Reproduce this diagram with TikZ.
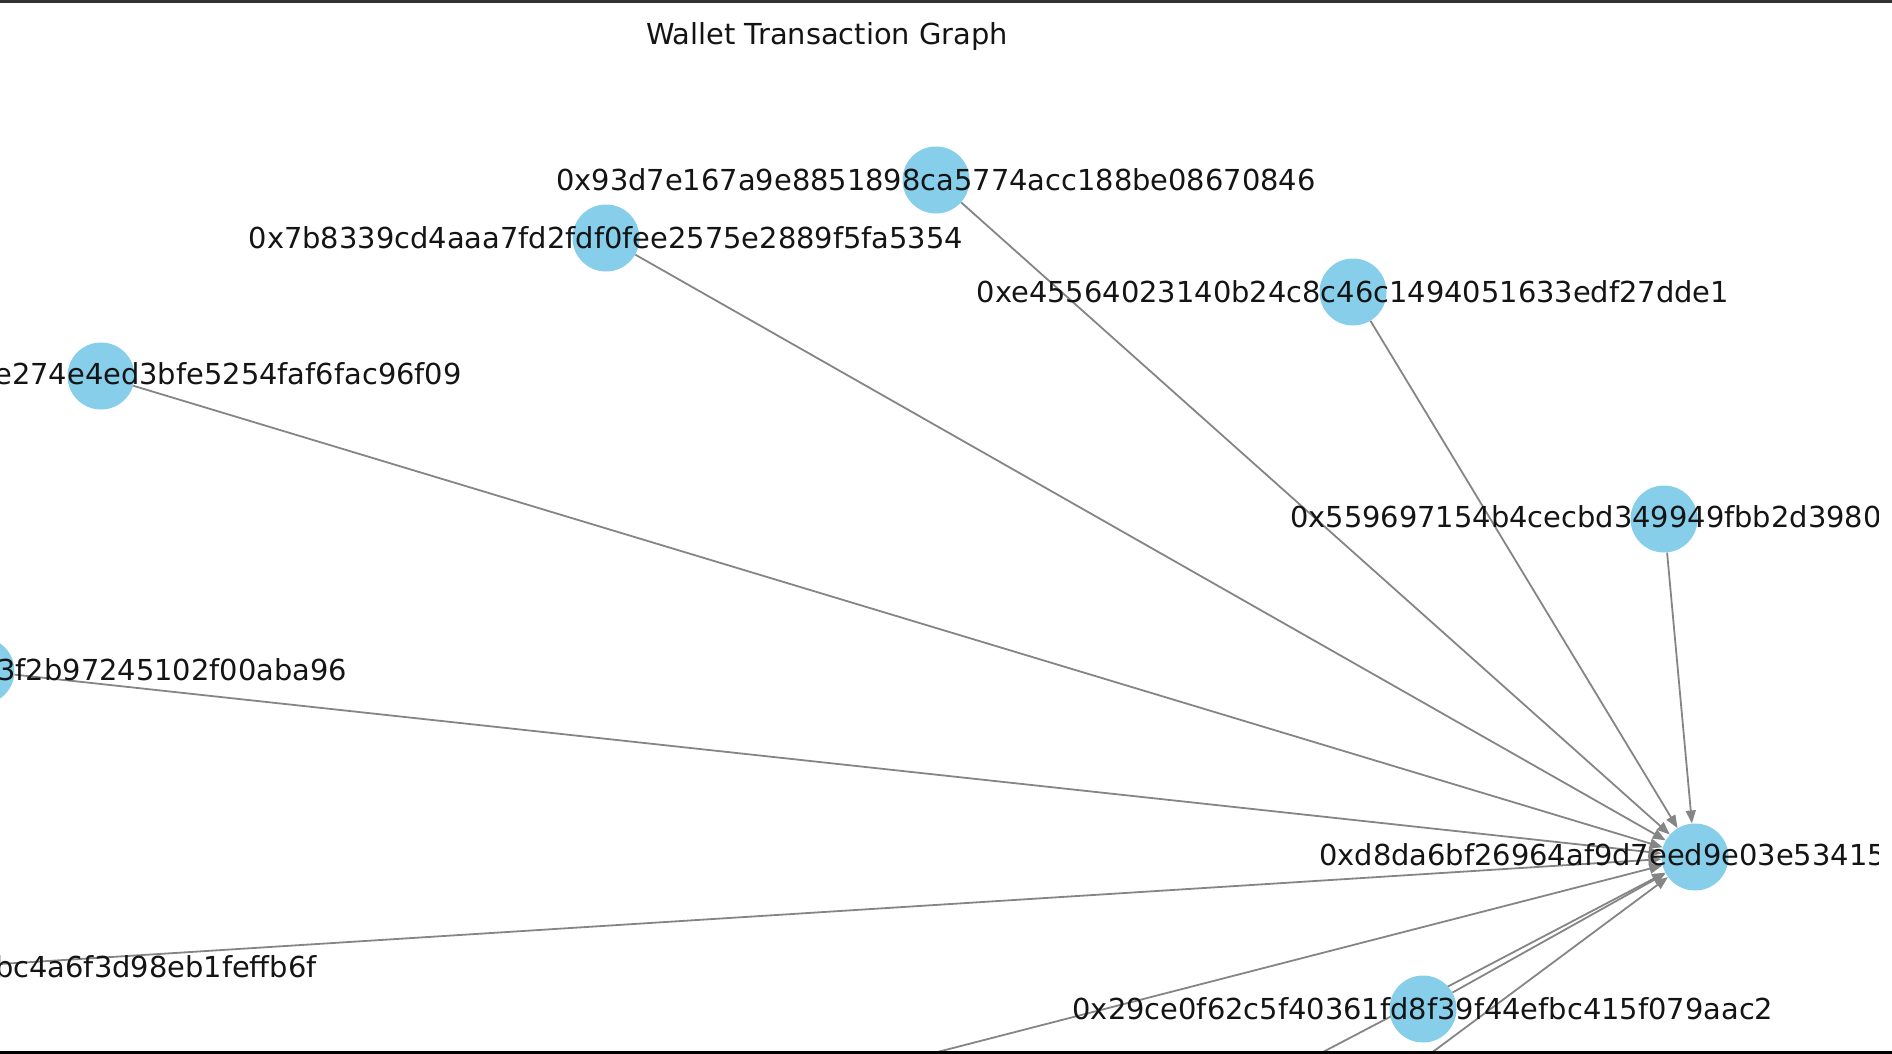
\documentclass[tikz,border=0pt]{standalone}
\usepackage{fontspec}
\setmainfont{DejaVu Sans}
\usetikzlibrary{arrows.meta}
\definecolor{skyblue}{HTML}{87CEEB}
\definecolor{edgegray}{HTML}{858585}
\definecolor{framegray}{HTML}{333333}
\begin{document}
\begin{tikzpicture}[x=1pt,y=-1pt,
  addr/.style={font=\fontsize{28.9}{34}\selectfont, inner sep=0pt, text=black!92},
  wnode/.style={circle, fill=skyblue, minimum size=67pt, inner sep=0pt},
  link/.style={draw=edgegray, line width=1.8pt, -{Triangle[length=13pt,width=10pt]}}]
\useasboundingbox (0,0) rectangle (1892,1054);
% nodes (positions)
\coordinate (c1) at (936,180);
\coordinate (c2) at (606,238);
\coordinate (c3) at (1353,292);
\coordinate (c4) at (101,376);
\coordinate (c5) at (1664,519);
\coordinate (c6) at (-19,671);
\coordinate (n7) at (-63,968);
\coordinate (c8) at (1423,1009);
\coordinate (ct) at (1695,857);
\coordinate (b1) at (852,1074);
\coordinate (b2) at (1281,1074);
\coordinate (b3) at (1403,1074);
% node outlines used for connector ends
\node[wnode, fill=none] (t) at (ct) {};
\node[wnode, fill=none] (n1) at (c1) {};
\node[wnode, fill=none] (n2) at (c2) {};
\node[wnode, fill=none] (n3) at (c3) {};
\node[wnode, fill=none] (n4) at (c4) {};
\node[wnode, fill=none] (n5) at (c5) {};
\node[wnode, fill=none] (n6) at (c6) {};
\node[wnode, fill=none] (n8) at (c8) {};
% edges
\draw[link] (n1) -- (t);
\draw[link] (n2) -- (t);
\draw[link] (n3) -- (t);
\draw[link] (n4) -- (t);
\draw[link] (n5) -- (t);
\draw[link] (n6) -- (t);
\draw[link] (n7) -- (t);
\draw[link] (n8) -- (t);
\draw[link] (b1) -- (t);
\draw[link] (b2) -- (t);
\draw[link] (b3) -- (t);
% filled circles on top of edges
\foreach \n in {t,n1,n2,n3,n4,n5,n6,n8}
  \fill[skyblue] (\n.center) circle (33.5);
% labels
\begin{scope}
\clip (-10,-10) rectangle (1878,1060);
\node[addr] (l1) at (c1) {0x93d7e167a9e8851898ca5774acc188be08670846};
\node[addr] (l2) at (c2) {0x7b8339cd4aaa7fd2fdf0fee2575e2889f5fa5354};
\node[addr] (l3) at (c3) {0xe45564023140b24c8c46c1494051633edf27dde1};
\node[addr, anchor=east] (l4) at (462,374) {e274e4ed3bfe5254faf6fac96f09};
\node[addr, anchor=west] (l5) at (1290,517) {0x559697154b4cecbd349949fbb2d3980};
\node[addr, anchor=east] (l6) at (347.5,670) {3f2b97245102f00aba96};
\node[addr, anchor=east] (l7) at (317,967) {bc4a6f3d98eb1feffb6f};
\node[addr] (l8) at (c8) {0x29ce0f62c5f40361fd8f39f44efbc415f079aac2};
\node[addr, anchor=west] (lt) at (1319,855) {0xd8da6bf26964af9d7eed9e03e53415};
\end{scope}
% title
\node[addr] (title) at (827,37) {Wallet Transaction Graph};
% frame lines
\draw[framegray, line width=3pt] (0,1.5) -- (1892,1.5);
\draw[black, line width=3.5pt] (0,1052.25) -- (1892,1052.25);
\end{tikzpicture}
\end{document}
